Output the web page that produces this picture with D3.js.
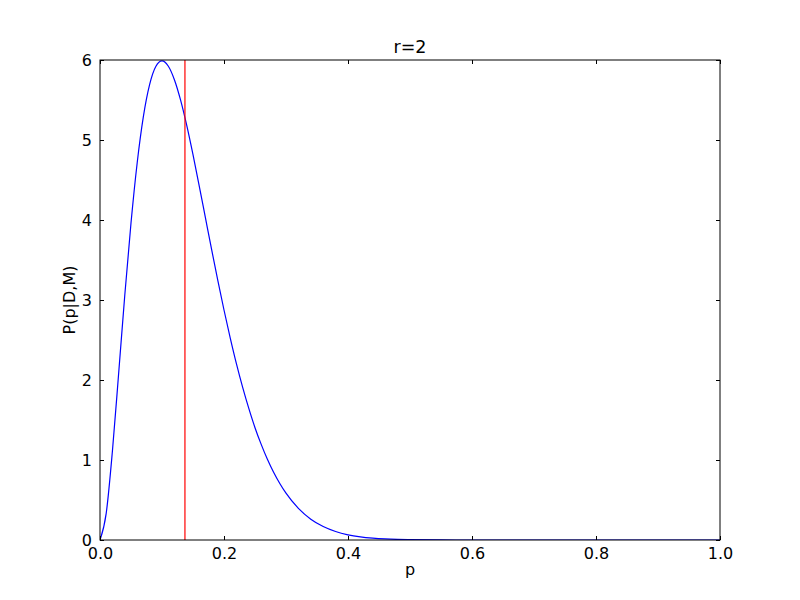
<!DOCTYPE html>
<html>
<head>
<meta charset="utf-8">
<script src="https://cdn.jsdelivr.net/npm/d3@7"></script>
<style>
  body { margin: 0; background: #fff; }
  text { font-family: "DejaVu Sans", sans-serif; fill: #000; }
</style>
</head>
<body>
<script>
// values
const P_VALUES = [0, 0.01, 0.02, 0.03, 0.04, 0.05, 0.06, 0.07, 0.08, 0.09,
  0.10, 0.11, 0.12, 0.13, 0.14, 0.15, 0.16, 0.17, 0.18, 0.19,
  0.20, 0.21, 0.22, 0.23, 0.24, 0.25, 0.26, 0.27, 0.28, 0.29,
  0.30, 0.32, 0.34, 0.36, 0.38, 0.40, 0.42, 0.44, 0.46, 0.48,
  0.50, 0.55, 0.60, 0.70, 0.80, 0.90, 1.0];
const DENSITY = [0, 0.333, 1.109, 2.075, 3.062, 3.962, 4.716, 5.295, 5.692, 5.919,
  5.989, 5.925, 5.754, 5.498, 5.179, 4.816, 4.428, 4.030, 3.632, 3.245,
  2.875, 2.528, 2.205, 1.911, 1.645, 1.404, 1.195, 1.008, 0.846, 0.706,
  0.585, 0.395, 0.260, 0.168, 0.106, 0.065, 0.039, 0.023, 0.013, 0.007,
  0.004, 0.0007, 0.0001, 0, 0, 0, 0];
const MARKER_P = 0.137;
const X_TICKS = [0, 0.2, 0.4, 0.6, 0.8, 1.0];
const Y_TICKS = [0, 1, 2, 3, 4, 5, 6];

const width = 800, height = 600;
const margin = { left: 100, right: 80, top: 60, bottom: 60 };

const svg = d3.select("body").append("svg")
  .attr("width", width)
  .attr("height", height);

const x = d3.scaleLinear().domain([0, 1]).range([margin.left, width - margin.right]);
const y = d3.scaleLinear().domain([0, 6]).range([height - margin.bottom, margin.top]);

const points = P_VALUES.map((p, i) => [p, DENSITY[i]]);

svg.append("clipPath").attr("id", "plot-clip")
  .append("rect")
  .attr("x", margin.left).attr("y", margin.top)
  .attr("width", width - margin.left - margin.right)
  .attr("height", height - margin.top - margin.bottom);

const plot = svg.append("g").attr("clip-path", "url(#plot-clip)");

plot.append("path")
  .datum(points)
  .attr("fill", "none")
  .attr("stroke", "#0000ff")
  .attr("stroke-width", 1.2)
  .attr("d", d3.line().x(d => x(d[0])).y(d => y(d[1])).curve(d3.curveMonotoneX));

plot.append("line")
  .attr("x1", x(MARKER_P)).attr("x2", x(MARKER_P))
  .attr("y1", y(0)).attr("y2", y(6))
  .attr("stroke", "#ff0000")
  .attr("stroke-width", 1.2);

// axes: ticks point inward, mirrored on top/right like classic matplotlib
const fmtX = d3.format(".1f");
const tickLen = 4;

const xBottom = svg.append("g")
  .attr("transform", `translate(0,${y(0)})`)
  .call(d3.axisBottom(x).tickValues(X_TICKS).tickFormat(fmtX).tickSizeInner(-tickLen).tickSizeOuter(0).tickPadding(8));
const xTop = svg.append("g")
  .attr("transform", `translate(0,${y(6)})`)
  .call(d3.axisTop(x).tickValues(X_TICKS).tickFormat("").tickSizeInner(-tickLen).tickSizeOuter(0));
const yLeft = svg.append("g")
  .attr("transform", `translate(${x(0)},0)`)
  .call(d3.axisLeft(y).tickValues(Y_TICKS).tickFormat(d3.format("d")).tickSizeInner(-tickLen).tickSizeOuter(0).tickPadding(8));
const yRight = svg.append("g")
  .attr("transform", `translate(${x(1)},0)`)
  .call(d3.axisRight(y).tickValues(Y_TICKS).tickFormat("").tickSizeInner(-tickLen).tickSizeOuter(0));

[xBottom, xTop, yLeft, yRight].forEach(g => {
  g.select(".domain").remove();
  g.selectAll("line").attr("stroke", "#000");
  g.selectAll("text").attr("font-size", "16px").attr("font-family", "DejaVu Sans, sans-serif").attr("fill", "#000");
});

svg.append("rect")
  .attr("x", margin.left).attr("y", margin.top)
  .attr("width", width - margin.left - margin.right)
  .attr("height", height - margin.top - margin.bottom)
  .attr("fill", "none")
  .attr("stroke", "#000")
  .attr("stroke-width", 1);

svg.append("text")
  .attr("x", (margin.left + width - margin.right) / 2)
  .attr("y", 53)
  .attr("text-anchor", "middle")
  .attr("font-size", "17.5px")
  .text("r=2");

svg.append("text")
  .attr("x", (margin.left + width - margin.right) / 2)
  .attr("y", 575)
  .attr("text-anchor", "middle")
  .attr("font-size", "16px")
  .text("p");

svg.append("text")
  .attr("transform", `translate(75,${(margin.top + height - margin.bottom) / 2}) rotate(-90)`)
  .attr("text-anchor", "middle")
  .attr("font-size", "16px")
  .text("P(p|D,M)");
</script>
</body>
</html>
